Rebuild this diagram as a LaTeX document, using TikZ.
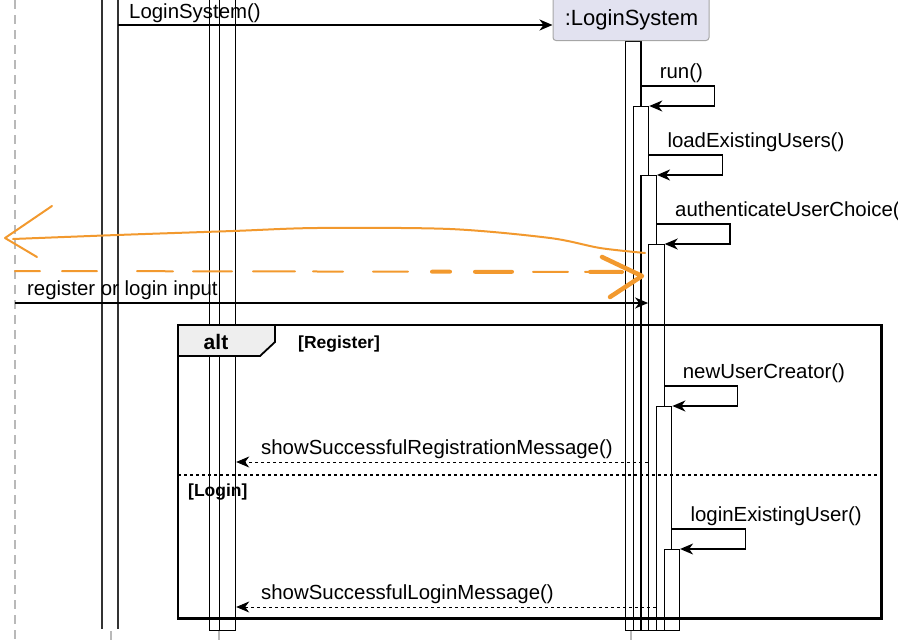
\documentclass[tikz,border=0pt]{standalone}
\usepackage{fontspec}
\setmainfont{Liberation Sans}
\usetikzlibrary{arrows.meta}
\definecolor{partfill}{RGB}{226,226,240}
\definecolor{altgray}{RGB}{238,238,238}
\definecolor{annot}{RGB}{242,153,46}

\begin{document}
\begin{tikzpicture}[x=1pt, y=-1pt,
        msg/.style={line width=1.5pt, -{Stealth[length=13pt,width=11pt,inset=4pt]}},
        retmsg/.style={msg, line width=1pt, dash pattern=on 3pt off 3pt},
        actbar/.style={draw, fill=white, line width=1.2pt, inner sep=0pt, anchor=north west},
        lifeline/.style={gray!55, line width=1.3pt, dash pattern=on 9pt off 6pt},
        lbl/.style={inner sep=0pt, anchor=base west, font=\fontsize{20.4}{24}\selectfont},
        guard/.style={inner sep=0pt, anchor=base west, font=\fontsize{17.5}{20}\selectfont\bfseries},
        scrib/.style={draw=annot, line width=2pt, line cap=round, line join=round}]
        \useasboundingbox (0,0) rectangle (898,640);
        \clip (0,0) rectangle (898,640);

        % lifelines
        \draw[lifeline] (15,0) -- (15,640);
        \draw[lifeline] (111,631) -- (111,645);
        \draw[lifeline] (219,631) -- (219,645);
        \draw[lifeline] (631,631) -- (631,645);
        \draw[line width=1.3pt, black!80] (102,-5) -- (102,629) (118,-5) -- (118,629);

        % activation bars
        \node[actbar, minimum width=16pt, minimum height=640pt] (u0) at (209,-10) {};
        \node[actbar, minimum width=16pt, minimum height=640pt] (u1) at (219,-10) {};
        \foreach \i/\top in {0/41, 1/106, 2/175, 3/244, 4/406, 5/549}
            \node[actbar, minimum width=15.4pt, minimum height={(630-\top)*1pt}] (b\i) at ({625+7.7*\i},\top) {};

        \node[draw=gray!70, fill=partfill, rounded corners=3pt, line width=1pt,
              minimum width=156pt, minimum height=56pt, anchor=south] (ls) at (631,41) {};
        \node[inner sep=0pt, anchor=base, font=\fontsize{22}{26}\selectfont] (lsname) at (631.5,25) {:LoginSystem};

        % messages
        \coordinate (caller) at (118,25);
        \draw[msg] (caller) -- (caller -| ls.west);
        \node[lbl] (m1) at (129,18) {LoginSystem()};

        \foreach \i/\y/\txt in {0/86/run(), 1/155/loadExistingUsers(), 2/224/authenticateUserChoice(,
                                3/386/newUserCreator(), 4/529/loginExistingUser()} {
            \pgfmathtruncatemacro{\j}{\i+1}
            \draw[msg] (b\i.east |- 0,\y) -- ++(73,0) |- (b\j.north east);
            \path (b\i.east |- 0,\y) ++(18,-7.5) node[lbl] (s\i) {\txt};
        }

        \coordinate (user) at (15,303);
        \draw[msg] (user) -- (user -| b3.west);
        \node[lbl] (m2) at (27,295) {register or login input};

        % alt frame
        \node[minimum width=703pt, minimum height=293pt, inner sep=0pt, anchor=north west] (alt) at (178,325) {};
        \filldraw[fill=altgray, line width=1.8pt] (alt.north west) -- ++(97,0) -- ++(0,17) -- ++(-15,14) -- ++(-82,0) -- cycle;
        \draw[line width=2.3pt] (alt.north west) rectangle (alt.south east);
        \node[inner sep=0pt, anchor=base, font=\fontsize{21}{24}\selectfont\bfseries] (altname) at (216,349) {alt};
        \node[guard] (g1) at (298,348) {[Register]};
        \draw[line width=1.4pt, dash pattern=on 3pt off 3pt] (alt.west |- 0,475) -- (alt.east |- 0,475);
        \node[guard] (g2) at (188,496) {[Login]};

        \draw[retmsg] (b3.west |- 0,462) -- (u1.east |- 0,462);
        \node[lbl] (r1) at (261,454) {showSuccessfulRegistrationMessage()};
        \draw[retmsg] (b4.west |- 0,607) -- (u1.east |- 0,607);
        \node[lbl] (r2) at (261,599) {showSuccessfulLoginMessage()};

        % hand drawn marks
        \draw[scrib] plot[smooth] coordinates {(645,253) (600,248) (550,238) (450,229) (317,228) (233,231) (117,235) (13,239)};
        \draw[scrib] (52,206) -- (5,238) -- (37,257);
        \draw[scrib, dash pattern=on 25pt off 22pt on 35pt off 40pt on 36pt off 20pt on 39pt off 21pt on 42pt off 18pt
              on 30pt off 30pt on 35pt off 24pt on 18pt off 25pt on 37pt off 21pt on 35pt off 17pt on 38pt off 60pt]
              (15,271) -- (623,272);
        \draw[scrib, line width=4pt] (432,271.7) -- (450,271.7) (475,271.8) -- (512,271.8) (590,271.9) -- (622,272);
        \draw[scrib, line width=4.5pt] (602,257) -- (642,276) -- (610,297);
\end{tikzpicture}
\end{document}
